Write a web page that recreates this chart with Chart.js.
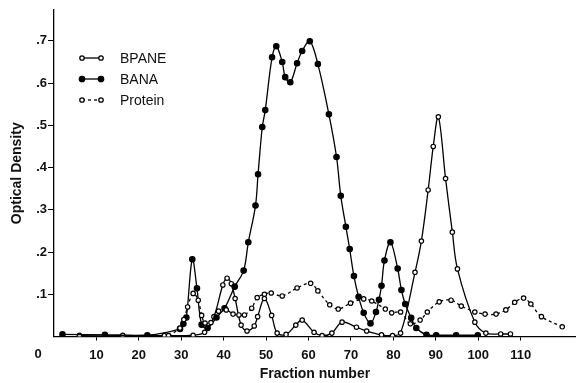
<!DOCTYPE html>
<html>
<head>
<meta charset="utf-8">
<script src="https://cdn.jsdelivr.net/npm/chart.js@4.4.0/dist/chart.umd.min.js"></script>
<style>
  html, body { margin: 0; padding: 0; background: #fff; }
  #wrap { width: 581px; height: 383px; }
</style>
</head>
<body>
<div id="wrap"><canvas id="chart" width="581" height="383"></canvas></div>
<script>
const FONT = "'Liberation Sans', Arial, sans-serif";

// ========== DATA ==========
const seriesNames = ['BPANE', 'BANA', 'Protein'];

const bpaneX = [6, 16.2, 26, 32.8, 35.5, 37.7, 39.8, 40.8, 41.8, 42.7, 44.1, 45.5, 47.2, 48, 49.6, 51.3, 52.6, 54.7, 57, 58.5, 61.3, 63.2, 65.5, 67.9, 71.3, 73.7, 77.2, 79.8, 81.7, 85.1, 86.6, 88.2, 89.4, 90.6, 92.3, 93.9, 95.1, 99.2, 101.8, 105.3, 107.6];
const bpaneY = [0.003, 0.003, 0.002, 0.003, 0.01, 0.047, 0.122, 0.138, 0.125, 0.09, 0.027, 0.013, 0.025, 0.047, 0.09, 0.05, 0.008, 0.005, 0.027, 0.039, 0.01, 0.002, 0.008, 0.034, 0.022, 0.013, 0.004, 0.002, 0.008, 0.152, 0.226, 0.347, 0.45, 0.52, 0.374, 0.247, 0.16, 0.034, 0.008, 0.006, 0.006];

const banaX = [2, 12, 22, 29.7, 30.5, 31.2, 32.6, 33.7, 34.8, 36.2, 38.3, 40.2, 42.6, 44.7, 45.8, 47.5, 48.1, 49.1, 49.8, 51.4, 52.4, 53.8, 54.5, 55.7, 57.3, 58.5, 60.3, 62.2, 64.8, 66.6, 67.6, 68.8, 69.7, 70.7, 71.8, 73, 74.6, 75.9, 76.6, 77.2, 77.9, 79.3, 81, 81.9, 82.8, 84.2, 85.4, 87.8, 90.1, 94.8, 99.9];
const banaY = [0.005, 0.004, 0.003, 0.018, 0.03, 0.045, 0.183, 0.114, 0.028, 0.02, 0.045, 0.067, 0.118, 0.156, 0.223, 0.31, 0.384, 0.496, 0.536, 0.661, 0.687, 0.65, 0.614, 0.602, 0.647, 0.676, 0.699, 0.645, 0.526, 0.425, 0.333, 0.26, 0.207, 0.143, 0.094, 0.056, 0.031, 0.058, 0.087, 0.12, 0.18, 0.223, 0.161, 0.11, 0.077, 0.044, 0.02, 0.004, 0.003, 0.003, 0.003];

const proteinX = [27, 29.7, 30.6, 31.5, 32.8, 34, 34.8, 35.6, 37, 38.8, 40.6, 42.2, 43.6, 44.9, 46.6, 47.9, 49.6, 51.2, 53.8, 57.3, 60.5, 62.2, 65, 67, 69.9, 73, 74.9, 78.1, 79.6, 81.7, 84, 86.3, 88, 90.8, 93.6, 96, 99.2, 101.6, 104.2, 106.5, 108.6, 110.7, 112.4, 114.9, 119.8];
const proteinY = [0.002, 0.02, 0.04, 0.07, 0.102, 0.086, 0.05, 0.032, 0.033, 0.06, 0.063, 0.053, 0.051, 0.051, 0.067, 0.092, 0.1, 0.103, 0.096, 0.115, 0.126, 0.108, 0.075, 0.065, 0.079, 0.089, 0.084, 0.065, 0.056, 0.058, 0.03, 0.039, 0.058, 0.082, 0.086, 0.072, 0.058, 0.053, 0.053, 0.063, 0.081, 0.091, 0.077, 0.047, 0.023];

const xTicks = [10, 20, 30, 40, 50, 60, 70, 80, 90, 100, 110];
const yTicks = [0.1, 0.2, 0.3, 0.4, 0.5, 0.6, 0.7];

const toPoints = (xs, ys) => xs.map((x, i) => ({ x, y: ys[i] }));

// ========== LEGEND + ORIGIN LABEL ==========
const figurePlugin = {
  id: 'figurePlugin',
  afterDraw(chart) {
    const ctx = chart.ctx;
    ctx.save();
    const rows = [58, 79, 100];
    seriesNames.forEach((name, i) => {
      const y = rows[i];
      ctx.strokeStyle = '#000';
      ctx.lineWidth = 1.3;
      ctx.setLineDash(i === 2 ? [3, 3] : []);
      ctx.beginPath();
      ctx.moveTo(82, y);
      ctx.lineTo(101, y);
      ctx.stroke();
      ctx.setLineDash([]);
      [82, 101].forEach(cx => {
        ctx.beginPath();
        ctx.arc(cx, y, i === 1 ? 2.7 : 2.2, 0, Math.PI * 2);
        ctx.fillStyle = i === 1 ? '#000' : '#fff';
        ctx.fill();
        ctx.stroke();
      });
      ctx.fillStyle = '#111';
      ctx.font = '14px ' + FONT;
      ctx.textAlign = 'left';
      ctx.textBaseline = 'middle';
      ctx.fillText(name, 120, y + 1);
    });
    ctx.font = 'bold 13px ' + FONT;
    ctx.textAlign = 'center';
    ctx.textBaseline = 'middle';
    ctx.fillText('0', 38, 354);
    ctx.restore();
  }
};

// ========== CHART ==========
const lineStyle = (fill, dashed) => ({
  borderColor: '#000',
  borderWidth: 1.3,
  borderDash: dashed ? [3, 3] : [],
  pointRadius: fill ? 2.7 : 2.2,
  pointBackgroundColor: fill ? '#000' : '#fff',
  pointBorderColor: '#000',
  pointBorderWidth: 1.2,
  tension: 0.35,
  fill: false
});

new Chart(document.getElementById('chart'), {
  type: 'line',
  data: {
    datasets: [
      { label: seriesNames[2], data: toPoints(proteinX, proteinY), ...lineStyle(false, true) },
      { label: seriesNames[1], data: toPoints(banaX, banaY), ...lineStyle(true, false) },
      { label: seriesNames[0], data: toPoints(bpaneX, bpaneY), ...lineStyle(false, false) }
    ]
  },
  options: {
    responsive: false,
    animation: false,
    devicePixelRatio: 1,
    layout: { padding: { top: 10, right: 1, left: 0, bottom: 0 } },
    plugins: { legend: { display: false }, tooltip: { enabled: false } },
    scales: {
      x: {
        type: 'linear',
        min: 0,
        max: 123,
        afterBuildTicks: scale => { scale.ticks = xTicks.map(v => ({ value: v })); },
        afterFit: scale => { scale.height = 46.5; },
        border: { display: true, color: '#000', width: 1.3 },
        grid: { drawOnChartArea: false, tickLength: 4, color: '#000', lineWidth: 1 },
        ticks: { color: '#111', padding: 7, maxRotation: 0, font: { family: FONT, size: 13, weight: 'bold' } },
        title: {
          display: true,
          text: 'Fraction number',
          color: '#111',
          padding: { top: 0, bottom: 0 },
          font: { family: FONT, size: 14, weight: 'bold' }
        }
      },
      y: {
        min: 0,
        max: 0.773,
        afterBuildTicks: scale => { scale.ticks = yTicks.map(v => ({ value: v })); },
        afterFit: scale => { scale.width = 54; },
        border: { display: true, color: '#000', width: 1.3 },
        grid: { drawOnChartArea: false, tickLength: 6, color: '#000', lineWidth: 1 },
        ticks: {
          color: '#111',
          padding: 1,
          font: { family: FONT, size: 13, weight: 'bold' },
          callback: v => '.' + Math.round(v * 10)
        },
        title: {
          display: true,
          text: 'Optical Density',
          color: '#111',
          padding: { top: 8.6, bottom: 0 },
          font: { family: FONT, size: 14, weight: 'bold' }
        }
      }
    }
  },
  plugins: [figurePlugin]
});
</script>
</body>
</html>
